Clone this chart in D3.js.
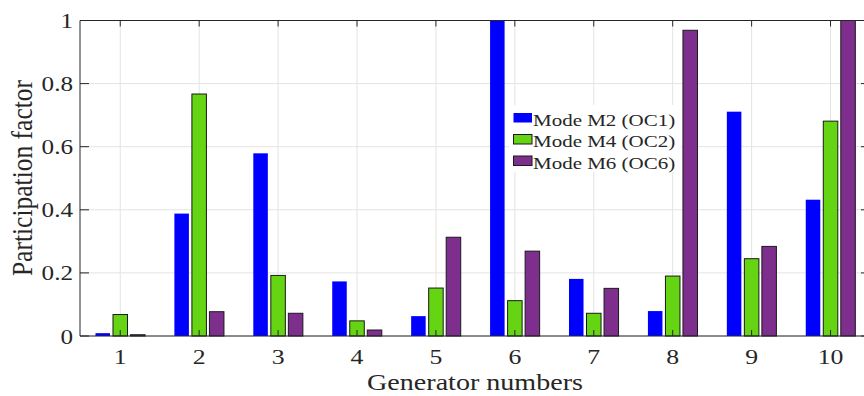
<!DOCTYPE html>
<html>
<head>
<meta charset="utf-8">
<script src="https://cdn.jsdelivr.net/npm/d3@7"></script>
<style>
  html, body { margin: 0; padding: 0; background: #fff; }
  svg { display: block; }
  text { font-family: "Liberation Serif", "Times New Roman", serif; fill: #262626; }
</style>
</head>
<body>
<svg id="chart" width="864" height="396"></svg>
<script>
// Generator indices and participation factors per mode
const generators = [1, 2, 3, 4, 5, 6, 7, 8, 9, 10];
const modeM2 = [0.009, 0.388, 0.579, 0.173, 0.063, 1.0, 0.181, 0.079, 0.711, 0.432];
const modeM4 = [0.068, 0.767, 0.192, 0.048, 0.152, 0.112, 0.072, 0.190, 0.245, 0.681];
const modeM6 = [0.004, 0.077, 0.072, 0.019, 0.313, 0.269, 0.151, 0.969, 0.284, 1.0];
const seriesNames = ["Mode M2 (OC1)", "Mode M4 (OC2)", "Mode M6 (OC6)"];
const yTicks = [0, 0.2, 0.4, 0.6, 0.8, 1];
const yTickLabels = ["0", "0.2", "0.4", "0.6", "0.8", "1"];

const colors = ["#0000ff", "#64d413", "#7e2f8e"];
const strokes = ["none", "#1a1a1a", "#1a1a1a"];
const offsets = [-0.222, 0, 0.222];
const barUnits = 0.184;

const svg = d3.select("#chart");
const plotLeft = 80, plotRight = 870, plotTop = 20.5, plotBottom = 336;

const x = d3.scaleLinear().domain([0.49, 10.5]).range([plotLeft, plotRight]);
const y = d3.scaleLinear().domain([0, 1]).range([plotBottom, plotTop]);
const barW = x(barUnits) - x(0);
const axisColor = "#262626";
const gridColor = "#e3e3e3";
const sx = 1.17; // horizontal glyph stretch

// grid
const grid = svg.append("g");
grid.selectAll("line.gx").data(generators).join("line")
  .attr("x1", d => x(d)).attr("x2", d => x(d))
  .attr("y1", plotTop).attr("y2", plotBottom)
  .attr("stroke", gridColor).attr("stroke-width", 1);
grid.selectAll("line.gy").data(yTicks).join("line")
  .attr("x1", plotLeft).attr("x2", plotRight)
  .attr("y1", d => y(d)).attr("y2", d => y(d))
  .attr("stroke", gridColor).attr("stroke-width", 1);

// bars
const series = [modeM2, modeM4, modeM6];
series.forEach((vals, s) => {
  svg.append("g").selectAll("rect").data(vals).join("rect")
    .attr("x", (d, i) => x(generators[i] + offsets[s]) - barW / 2)
    .attr("width", barW)
    .attr("y", d => y(d))
    .attr("height", d => y(0) - y(d))
    .attr("fill", colors[s])
    .attr("stroke", strokes[s])
    .attr("stroke-width", strokes[s] === "none" ? 0 : 1);
});

// axes box
const ax = svg.append("g").attr("stroke", axisColor).attr("stroke-width", 1).attr("fill", "none");
ax.append("line").attr("x1", plotLeft).attr("x2", plotRight).attr("y1", plotTop).attr("y2", plotTop);
ax.append("line").attr("x1", plotLeft).attr("x2", plotRight).attr("y1", plotBottom).attr("y2", plotBottom);
ax.append("line").attr("x1", plotLeft).attr("x2", plotLeft).attr("y1", plotTop).attr("y2", plotBottom);
ax.append("line").attr("x1", plotRight).attr("x2", plotRight).attr("y1", plotTop).attr("y2", plotBottom);

// ticks (inward)
generators.forEach(g => {
  ax.append("line").attr("x1", x(g)).attr("x2", x(g)).attr("y1", plotBottom).attr("y2", plotBottom - 6);
  ax.append("line").attr("x1", x(g)).attr("x2", x(g)).attr("y1", plotTop).attr("y2", plotTop + 6);
});
yTicks.forEach(t => {
  ax.append("line").attr("x1", plotLeft).attr("x2", plotLeft + 9).attr("y1", y(t)).attr("y2", y(t));
  ax.append("line").attr("x1", plotRight).attr("x2", plotRight - 9).attr("y1", y(t)).attr("y2", y(t));
});

// tick labels
svg.append("g").selectAll("text").data(generators).join("text")
  .attr("transform", d => `translate(${x(d)},364) scale(${sx},1)`)
  .attr("text-anchor", "middle")
  .attr("font-size", 22)
  .text(d => d);
svg.append("g").selectAll("text").data(yTicks).join("text")
  .attr("transform", d => `translate(73,${y(d) + 7.5}) scale(${sx},1)`)
  .attr("text-anchor", "end")
  .attr("font-size", 21.5)
  .text((d, i) => yTickLabels[i]);

// axis titles
svg.append("text")
  .attr("transform", `translate(475,390) scale(1.17,1)`)
  .attr("text-anchor", "middle")
  .attr("font-size", 24)
  .text("Generator numbers");
svg.append("text")
  .attr("transform", `translate(32,178) scale(${sx},1) rotate(-90)`)
  .attr("text-anchor", "middle")
  .attr("font-size", 25.5)
  .text("Participation factor");

// legend
const lg = svg.append("g");
lg.append("rect").attr("x", 509).attr("y", 105).attr("width", 172).attr("height", 67).attr("fill", "#fff");
seriesNames.forEach((name, s) => {
  const yy = 113 + s * 21.5;
  lg.append("rect")
    .attr("x", 513.5).attr("y", yy)
    .attr("width", 18.5).attr("height", 9.5)
    .attr("fill", colors[s])
    .attr("stroke", strokes[s])
    .attr("stroke-width", strokes[s] === "none" ? 0 : 1);
  lg.append("text")
    .attr("transform", `translate(533,${yy + 12.5}) scale(1.2,1)`)
    .attr("font-size", 17.5)
    .text(name);
});
</script>
</body>
</html>
